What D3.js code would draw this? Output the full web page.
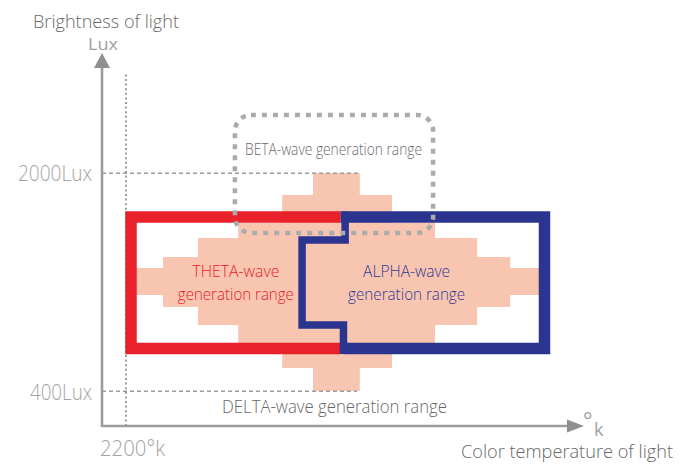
<!DOCTYPE html>
<html><head><meta charset="utf-8">
<script src="https://cdn.jsdelivr.net/npm/d3@7"></script>
<style>
html,body{margin:0;padding:0;background:#fff;}
text{font-family:"Open Sans","Noto Sans",sans-serif;}
</style></head>
<body><svg id="c" width="680" height="465"></svg>
<script>
// ---- data (conceptual units, 0..100 on each axis) ----
const xTickValues = [5.07];
const xTickLabels = ["2200°k"];
const yTickValues = [67.75, 9.3];
const yTickLabels = ["2000Lux", "400Lux"];

// stepped "brain-wave" field, one row per step (top to bottom)
const rowTop    = [67.83, 61.93, 54.42, 50.40, 45.31, 42.36, 35.12, 31.90, 27.08, 22.25, 15.55];
const rowBottom = [61.93, 54.42, 50.40, 45.31, 42.36, 35.12, 31.90, 27.08, 22.25, 15.55, 9.38];
const rowLeft   = [44.6, 38.1, 28.8, 20.3, 12.9, 6.1, 12.9, 20.3, 28.8, 38.1, 44.6];
const rowRight  = [54.5, 61.3, 70.4, 79.3, 86.3, 93.0, 86.3, 79.3, 70.4, 61.3, 54.5];

// THETA range outline
const thetaX = [50.45, 6.13, 6.13, 50.45];
const thetaY = [56.03, 56.03, 20.78, 20.78];
// ALPHA range outline (outer part and stepped left edge)
const alphaX = [50.45, 93.55, 93.55, 51.05];
const alphaY = [56.03, 56.03, 20.78, 20.78];
const alphaStepX = [51.4, 51.4, 42.3, 42.3, 51.05, 51.05];
const alphaStepY = [57.5, 49.87, 49.87, 27.08, 27.08, 19.3];
// BETA range box
const betaX = [28.1, 70.0];
const betaY = [51.74, 83.38];

const rangeLabels = [
  {lines:["THETA-wave","generation range"], x:28.3, color:"#e8202a", widths:[87,116]},
  {lines:["ALPHA-wave","generation range"], x:64.4, color:"#2e3a94", widths:[87,117]}
];

// ---- drawing ----
const svg = d3.select("#c");
const x = d3.scaleLinear().domain([0,100]).range([102,575]);
const y = d3.scaleLinear().domain([0,100]).range([426,53]);
const axisCol = "#9c9c9c";

// stepped field polygon
const pts = [];
rowTop.forEach((t,i)=>{ pts.push([x(rowLeft[i]), y(t)]); pts.push([x(rowLeft[i]), y(rowBottom[i])]); });
for (let i=rowTop.length-1;i>=0;i--){ pts.push([x(rowRight[i]), y(rowBottom[i])]); pts.push([x(rowRight[i]), y(rowTop[i])]); }
svg.append("path").attr("d", d3.line()(pts)+"Z").attr("fill","#f8c5b1");

// reference lines
svg.append("line").attr("x1",x(0)).attr("x2",x(54.1)).attr("y1",y(yTickValues[0])).attr("y2",y(yTickValues[0]))
  .attr("stroke",axisCol).attr("stroke-width",1.6).attr("stroke-dasharray","4,3");
svg.append("line").attr("x1",x(0)).attr("x2",x(53.9)).attr("y1",y(yTickValues[1])).attr("y2",y(yTickValues[1]))
  .attr("stroke",axisCol).attr("stroke-width",1.6).attr("stroke-dasharray","4,3");
svg.append("line").attr("x1",x(xTickValues[0])).attr("x2",x(xTickValues[0])).attr("y1",y(0)).attr("y2",y(94.64))
  .attr("stroke",axisCol).attr("stroke-width",2).attr("stroke-dasharray","2,2.6");

// THETA red outline
const lineXY = (xs,ys)=> d3.line()(xs.map((v,i)=>[x(v),y(ys[i])]));
svg.append("path").attr("d", lineXY(thetaX,thetaY)).attr("fill","none")
  .attr("stroke","#e8212b").attr("stroke-width",11.5).attr("stroke-linejoin","miter");
// ALPHA blue outline
svg.append("path").attr("d", lineXY(alphaX,alphaY)).attr("fill","none")
  .attr("stroke","#2b3590").attr("stroke-width",11.5).attr("stroke-linejoin","miter");
svg.append("path").attr("d", lineXY(alphaStepX,alphaStepY)).attr("fill","none")
  .attr("stroke","#2b3590").attr("stroke-width",7.5).attr("stroke-linejoin","miter");

// BETA dotted rounded box
svg.append("rect").attr("x",x(betaX[0])).attr("y",y(betaY[1]))
  .attr("width",x(betaX[1])-x(betaX[0])).attr("height",y(betaY[0])-y(betaY[1]))
  .attr("rx",16).attr("fill","none").attr("stroke","#ababab").attr("stroke-width",4.5)
  .attr("stroke-dasharray","5,6");

// axes lines + arrows
svg.append("line").attr("x1",x(0)).attr("x2",x(0)).attr("y1",y(0)+1).attr("y2",y(96))
  .attr("stroke",axisCol).attr("stroke-width",2.6);
svg.append("line").attr("x1",x(0)).attr("x2",x(98.5)).attr("y1",y(0)).attr("y2",y(0))
  .attr("stroke",axisCol).attr("stroke-width",2.6);
svg.append("path").attr("d", d3.line()([[x(0),y(100)],[x(0)-8,y(96)],[x(0)+8,y(96)]])+"Z").attr("fill","#8f8f8f");
svg.append("path").attr("d", d3.line()([[x(101.9),y(0)],[x(98.3),y(0)-6.5],[x(98.3),y(0)+6.5]])+"Z").attr("fill","#8f8f8f");

// d3 axes for tick labels
const yAxis = d3.axisLeft(y).tickValues(yTickValues).tickFormat((d,i)=>yTickLabels[i]).tickSize(0).tickPadding(10);
const gy = svg.append("g").attr("transform",`translate(${x(0)},0)`).call(yAxis);
gy.select(".domain").remove();
gy.selectAll("text").attr("font-size",22).attr("fill","#a3a3a3").attr("dy","0.35em")
  .attr("textLength",(d,i)=>[74,62][i]).attr("lengthAdjust","spacingAndGlyphs").style("font-family","'Open Sans',sans-serif").style("font-weight",300);

const xAxis = d3.axisBottom(x).tickValues(xTickValues).tickFormat((d,i)=>xTickLabels[i]).tickSize(0).tickPadding(14);
const gx = svg.append("g").attr("transform",`translate(0,${y(0)})`).call(xAxis);
gx.select(".domain").remove();
gx.selectAll("text").attr("font-size",22).attr("fill","#a3a3a3").attr("dx",6)
  .attr("textLength",65).attr("lengthAdjust","spacingAndGlyphs").style("font-family","'Open Sans',sans-serif").style("font-weight",300);

// axis unit marks
svg.append("text").attr("x",103).attr("y",50).attr("text-anchor","middle").attr("font-size",17)
  .attr("fill","#a0a0a0").attr("textLength",30).attr("lengthAdjust","spacingAndGlyphs").text("Lux");
svg.append("text").attr("x",583).attr("y",428).attr("font-size",22).attr("fill","#a0a0a0").text("°");
svg.append("text").attr("x",594).attr("y",436).attr("font-size",18).attr("fill","#a0a0a0").text("k");

// axis titles
const title = (txt,xp,yp,len,fs,col)=> svg.append("text").attr("x",xp).attr("y",yp).attr("font-size",fs)
  .attr("fill",col).attr("textLength",len).attr("lengthAdjust","spacingAndGlyphs").style("font-weight",300).text(txt);
title("Brightness of light",33,28,146,18,"#686868");
title("Color temperature of light",461,458,212,18,"#686868");
title("BETA-wave generation range",245,155,177,17,"#6a6a6a");
title("DELTA-wave generation range",222,413,225,18,"#686868");

// range labels
rangeLabels.forEach(l=>{
  l.lines.forEach((t,j)=>{
    svg.append("text").attr("x",x(l.x)).attr("y",[277,300][j]).attr("text-anchor","middle")
      .attr("font-size",16.5).attr("fill",l.color).attr("textLength",l.widths[j]).attr("lengthAdjust","spacingAndGlyphs")
      .style("font-weight",300).text(t);
  });
});
</script></body></html>
